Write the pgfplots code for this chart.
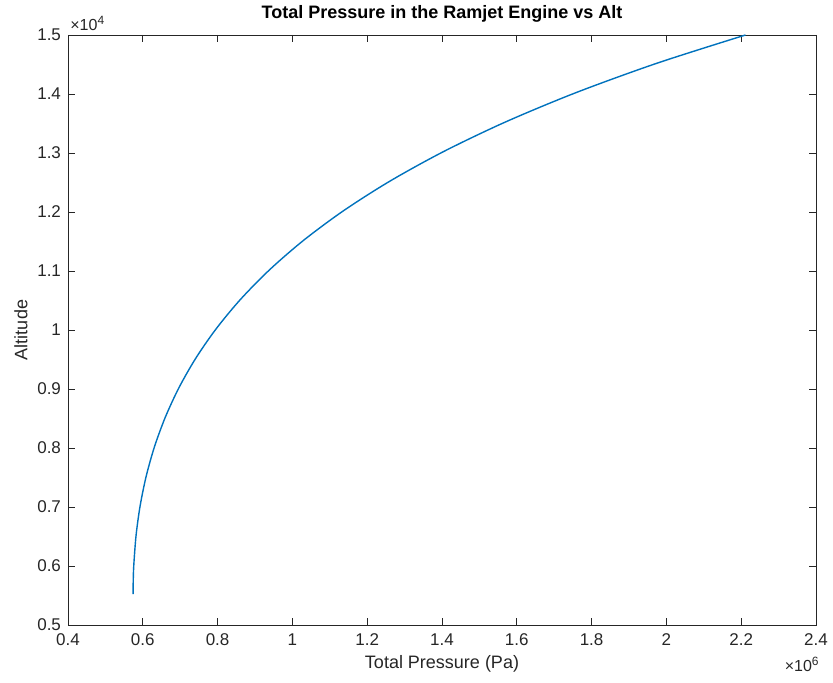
\documentclass[border=0pt]{standalone}
\usepackage{pgfplots}
\pgfplotsset{compat=1.18}
\usepackage{fontspec}
\setmainfont{Liberation Sans}
\definecolor{mlblue}{HTML}{0072BD}
\definecolor{axgray}{HTML}{262626}
\begin{document}
\begin{tikzpicture}
\useasboundingbox (-34pt,-29pt) rectangle (382.5pt,312.5pt);
\begin{axis}[
  at={(0,0)}, anchor=south west,
  scale only axis,
  width=374pt, height=295pt,
  xmin=0.4, xmax=2.4,
  ymin=0.5, ymax=1.5,
  scaled ticks=false,
  xtick={0.4,0.6,0.8,1.0,1.2,1.4,1.6,1.8,2.0,2.2,2.4},
  xticklabels={0.4,0.6,0.8,1,1.2,1.4,1.6,1.8,2,2.2,2.4},
  ytick={0.5,0.6,0.7,0.8,0.9,1.0,1.1,1.2,1.3,1.4,1.5},
  yticklabels={0.5,0.6,0.7,0.8,0.9,1,1.1,1.2,1.3,1.4,1.5},
  tick align=inside,
  major tick length=3.5pt,
  axis line style={axgray, line width=0.4pt},
  tick style={axgray, line width=0.4pt},
  tick label style={font=\fontsize{8.5}{10}\selectfont, text=axgray},
  xticklabel style={yshift=-1pt},
  xlabel={Total Pressure (Pa)},
  ylabel={Altitude},
  xlabel style={font=\fontsize{9}{11}\selectfont, text=axgray, yshift=2pt},
  ylabel style={font=\fontsize{9}{11}\selectfont, text=axgray, yshift=-2pt},
  title={\textbf{Total Pressure in the Ramjet Engine vs Alt}},
  title style={font=\fontsize{9}{11}\selectfont, yshift=-3pt},
  clip=false,
]
\addplot[mlblue, line width=0.7pt, smooth] coordinates {
(0.5740,0.5525)
(0.5745,0.5775)
(0.5760,0.6025)
(0.5821,0.6525)
(0.5930,0.7025)
(0.6092,0.7525)
(0.6314,0.8025)
(0.6604,0.8525)
(0.6969,0.9025)
(0.7420,0.9525)
(0.7967,1.0025)
(0.8621,1.0525)
(0.9397,1.1025)
(1.0309,1.1525)
(1.1375,1.2025)
(1.2613,1.2525)
(1.4045,1.3025)
(1.5695,1.3525)
(1.7591,1.4025)
(1.9763,1.4525)
(2.2115,1.5000)
};
\node[anchor=north east, inner sep=0pt, text=axgray, font=\fontsize{8}{10}\selectfont] at ([yshift=-16pt, xshift=2pt]rel axis cs:1,0) {×10\textsuperscript{6}};
\node[anchor=south west, inner sep=0pt, text=axgray, font=\fontsize{8}{10}\selectfont] at ([yshift=2pt, xshift=1pt]rel axis cs:0,1) {×10\textsuperscript{4}};
\end{axis}
\end{tikzpicture}
\end{document}
